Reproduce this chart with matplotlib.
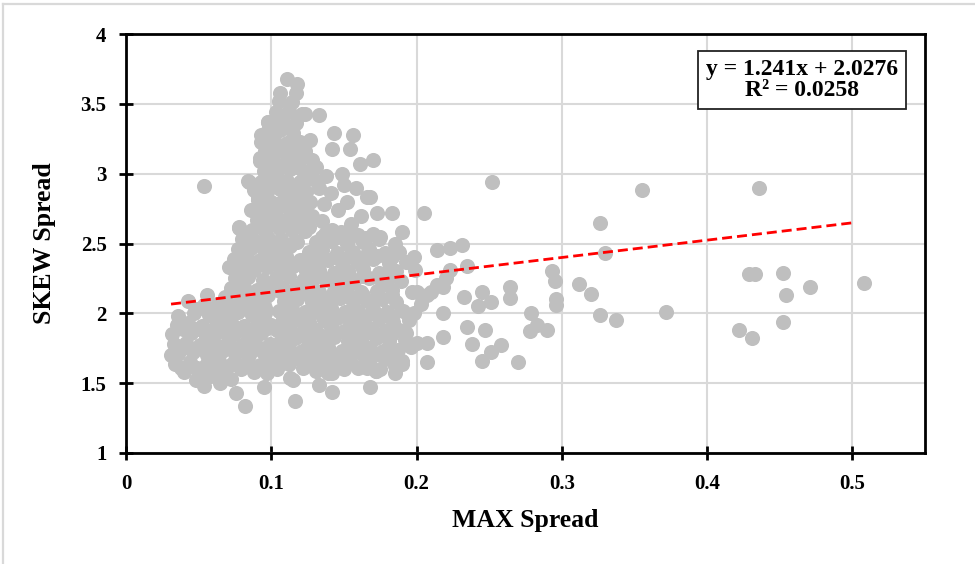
import matplotlib
matplotlib.use("Agg")
import matplotlib.pyplot as plt
from matplotlib.lines import Line2D

# (MAX spread, SKEW spread) pairs, grouped by where they sit in the cloud
low_block = [
    (0.040, 1.58), (0.050, 1.57), (0.060, 1.59), (0.069, 1.56), (0.079, 1.60), (0.088, 1.58), (0.097, 1.57),
    (0.034, 1.64), (0.044, 1.65), (0.055, 1.63), (0.064, 1.66), (0.073, 1.64), (0.083, 1.65), (0.092, 1.63), (0.101, 1.66),
    (0.036, 1.71), (0.046, 1.72), (0.056, 1.70), (0.066, 1.73), (0.075, 1.71), (0.085, 1.70), (0.094, 1.72),
    (0.033, 1.78), (0.041, 1.79), (0.051, 1.77), (0.061, 1.78), (0.070, 1.80), (0.080, 1.77), (0.089, 1.79), (0.099, 1.78),
    (0.032, 1.85), (0.045, 1.86), (0.055, 1.84), (0.065, 1.87), (0.074, 1.85), (0.084, 1.84), (0.093, 1.86),
    (0.035, 1.92), (0.043, 1.93), (0.052, 1.91), (0.062, 1.92), (0.072, 1.94), (0.081, 1.91), (0.091, 1.93), (0.100, 1.92),
    (0.036, 1.98), (0.047, 2.00), (0.057, 1.99), (0.067, 1.98), (0.077, 2.01), (0.087, 1.99), (0.096, 2.00),
    (0.043, 2.09), (0.054, 2.06), (0.063, 2.07), (0.073, 2.05), (0.082, 2.08), (0.092, 2.06),
    (0.056, 2.13), (0.068, 2.12), (0.078, 2.14), (0.088, 2.12), (0.098, 2.13),
    (0.031, 1.70), (0.038, 1.61), (0.048, 1.52), (0.054, 1.48), (0.065, 1.50), (0.076, 1.43),
    (0.082, 1.34), (0.095, 1.47), (0.072, 1.53), (0.058, 1.55), (0.054, 2.91),
    (0.039, 1.61), (0.049, 1.61), (0.059, 1.62), (0.068, 1.61), (0.078, 1.62), (0.087, 1.61), (0.096, 1.62),
    (0.039, 1.75), (0.049, 1.75), (0.059, 1.74), (0.068, 1.76), (0.078, 1.75), (0.087, 1.74), (0.096, 1.75),
    (0.039, 1.89), (0.049, 1.89), (0.059, 1.88), (0.068, 1.90), (0.078, 1.89), (0.087, 1.88), (0.096, 1.89),
    (0.049, 2.03), (0.059, 2.03), (0.068, 2.02), (0.078, 2.04), (0.087, 2.03), (0.096, 2.04),
]

tower = [
    (0.072, 2.18), (0.081, 2.19), (0.090, 2.17), (0.099, 2.20), (0.108, 2.18), (0.117, 2.19),
    (0.075, 2.25), (0.084, 2.26), (0.094, 2.24), (0.103, 2.25), (0.112, 2.27), (0.122, 2.24),
    (0.071, 2.33), (0.079, 2.32), (0.088, 2.31), (0.097, 2.33), (0.106, 2.32), (0.115, 2.34),
    (0.074, 2.39), (0.083, 2.40), (0.092, 2.38), (0.101, 2.39), (0.110, 2.41), (0.120, 2.38),
    (0.077, 2.46), (0.086, 2.47), (0.095, 2.45), (0.104, 2.46), (0.113, 2.48),
    (0.080, 2.53), (0.089, 2.52), (0.098, 2.54), (0.107, 2.53), (0.116, 2.52),
    (0.078, 2.61), (0.087, 2.60), (0.096, 2.59), (0.105, 2.61), (0.114, 2.60), (0.123, 2.59),
    (0.090, 2.67), (0.099, 2.68), (0.108, 2.66), (0.117, 2.67),
    (0.086, 2.74), (0.095, 2.73), (0.104, 2.75), (0.113, 2.74), (0.122, 2.73),
    (0.091, 2.81), (0.100, 2.80), (0.109, 2.82), (0.118, 2.81), (0.127, 2.80),
    (0.088, 2.88), (0.097, 2.87), (0.106, 2.89), (0.115, 2.88), (0.124, 2.87),
    (0.084, 2.95), (0.093, 2.94), (0.102, 2.96), (0.111, 2.95), (0.120, 2.94), (0.129, 2.96),
    (0.095, 3.02), (0.104, 3.01), (0.113, 3.03), (0.122, 3.02),
    (0.092, 3.09), (0.101, 3.10), (0.110, 3.08), (0.119, 3.09), (0.128, 3.10),
    (0.096, 3.16), (0.105, 3.17), (0.114, 3.15), (0.123, 3.16),
    (0.093, 3.23), (0.102, 3.24), (0.111, 3.22), (0.120, 3.23),
    (0.097, 3.30), (0.106, 3.31), (0.115, 3.29),
    (0.098, 3.37), (0.108, 3.38), (0.117, 3.36),
    (0.103, 3.44), (0.112, 3.45), (0.121, 3.43),
    (0.105, 3.52), (0.114, 3.51),
    (0.106, 3.58), (0.117, 3.58),
    (0.118, 3.64), (0.111, 3.68),
    (0.076, 2.36), (0.085, 2.36), (0.094, 2.35), (0.103, 2.36), (0.112, 2.37), (0.121, 2.35),
    (0.082, 2.50), (0.091, 2.50), (0.100, 2.49), (0.109, 2.50), (0.118, 2.51),
    (0.094, 2.64), (0.103, 2.64), (0.112, 2.63), (0.121, 2.64),
    (0.094, 2.78), (0.103, 2.78), (0.112, 2.77), (0.121, 2.78),
    (0.094, 2.92), (0.103, 2.92), (0.112, 2.91), (0.121, 2.92),
    (0.099, 3.06), (0.108, 3.06), (0.117, 3.05),
    (0.098, 3.20), (0.107, 3.20), (0.116, 3.19),
    (0.102, 3.34), (0.111, 3.34),
]

tower_fringe = [
    (0.123, 3.43), (0.133, 3.42), (0.143, 3.29), (0.156, 3.28), (0.127, 3.24), (0.142, 3.18),
    (0.154, 3.18), (0.170, 3.10), (0.161, 3.07), (0.149, 3.00), (0.168, 2.83), (0.173, 2.72),
    (0.183, 2.72), (0.166, 2.83), (0.098, 3.37), (0.093, 3.28), (0.092, 3.11), (0.085, 2.94),
    (0.091, 2.83), (0.078, 2.62), (0.104, 2.68),
    (0.128, 2.70), (0.136, 2.78), (0.133, 2.90), (0.141, 2.86), (0.138, 2.98), (0.131, 3.05),
    (0.146, 2.74), (0.152, 2.80), (0.158, 2.90), (0.150, 2.92), (0.126, 2.62), (0.135, 2.66),
    (0.142, 2.60), (0.155, 2.64), (0.162, 2.70),
]

band = [
    (0.104, 1.60), (0.122, 1.61), (0.131, 1.59), (0.140, 1.62), (0.150, 1.60), (0.160, 1.61), (0.172, 1.59), (0.185, 1.62),
    (0.108, 1.67), (0.117, 1.68), (0.126, 1.66), (0.135, 1.67), (0.145, 1.69), (0.154, 1.66), (0.165, 1.68), (0.178, 1.67), (0.190, 1.66),
    (0.103, 1.74), (0.112, 1.75), (0.121, 1.73), (0.130, 1.74), (0.139, 1.76), (0.149, 1.73), (0.158, 1.74), (0.168, 1.75),
    (0.177, 1.73), (0.187, 1.74), (0.196, 1.76),
    (0.107, 1.81), (0.116, 1.82), (0.125, 1.80), (0.134, 1.81), (0.143, 1.83), (0.153, 1.80), (0.162, 1.81), (0.172, 1.82),
    (0.181, 1.80), (0.192, 1.81),
    (0.104, 1.88), (0.113, 1.89), (0.122, 1.87), (0.131, 1.88), (0.141, 1.90), (0.150, 1.87), (0.159, 1.88), (0.169, 1.89),
    (0.178, 1.87), (0.188, 1.88),
    (0.108, 1.95), (0.117, 1.96), (0.126, 1.94), (0.136, 1.95), (0.145, 1.97), (0.154, 1.94), (0.164, 1.95), (0.174, 1.96),
    (0.184, 1.94), (0.195, 1.95),
    (0.105, 2.02), (0.114, 2.03), (0.123, 2.01), (0.132, 2.02), (0.141, 2.04), (0.151, 2.01), (0.160, 2.02), (0.170, 2.03),
    (0.180, 2.01), (0.191, 2.02),
    (0.109, 2.09), (0.118, 2.10), (0.128, 2.08), (0.137, 2.09), (0.147, 2.11), (0.156, 2.08), (0.166, 2.09), (0.176, 2.10),
    (0.186, 2.08),
    (0.106, 2.16), (0.124, 2.17), (0.133, 2.15), (0.143, 2.16), (0.152, 2.18), (0.162, 2.15), (0.173, 2.16), (0.183, 2.17),
    (0.197, 2.15),
    (0.128, 2.23), (0.138, 2.24), (0.147, 2.22), (0.157, 2.23), (0.167, 2.25), (0.178, 2.22), (0.189, 2.23),
    (0.124, 2.30), (0.133, 2.31), (0.143, 2.29), (0.153, 2.30), (0.163, 2.32), (0.174, 2.29), (0.186, 2.30), (0.199, 2.31),
    (0.129, 2.37), (0.139, 2.38), (0.149, 2.36), (0.159, 2.37), (0.170, 2.39), (0.181, 2.36), (0.193, 2.37),
    (0.126, 2.44), (0.135, 2.45), (0.145, 2.43), (0.156, 2.44), (0.167, 2.46), (0.178, 2.43), (0.188, 2.44),
    (0.131, 2.51), (0.141, 2.52), (0.152, 2.50), (0.163, 2.51), (0.174, 2.53), (0.185, 2.50),
    (0.137, 2.57), (0.148, 2.58), (0.160, 2.56), (0.170, 2.57),
    (0.115, 1.52), (0.133, 1.49), (0.142, 1.44), (0.142, 1.57), (0.168, 1.47), (0.172, 1.59),
    (0.185, 1.57), (0.116, 1.37), (0.113, 1.54), (0.139, 1.57), (0.190, 1.64), (0.175, 1.60), (0.166, 1.61),
    (0.112, 1.64), (0.130, 1.63), (0.149, 1.64), (0.168, 1.63),
    (0.108, 1.70), (0.117, 1.71), (0.126, 1.70), (0.135, 1.71), (0.144, 1.70), (0.154, 1.71), (0.163, 1.70), (0.173, 1.71), (0.183, 1.70),
    (0.108, 1.85), (0.117, 1.84), (0.126, 1.85), (0.135, 1.84), (0.144, 1.85), (0.154, 1.84), (0.163, 1.85), (0.173, 1.84), (0.183, 1.85),
    (0.108, 1.98), (0.117, 1.99), (0.126, 1.98), (0.135, 1.99), (0.144, 1.98), (0.154, 1.99), (0.163, 1.98), (0.173, 1.99), (0.183, 1.98),
    (0.113, 2.13), (0.126, 2.13), (0.135, 2.12), (0.144, 2.13), (0.154, 2.12), (0.163, 2.13), (0.173, 2.12), (0.183, 2.13),
    (0.126, 2.27), (0.135, 2.26), (0.144, 2.27), (0.154, 2.26), (0.163, 2.27), (0.173, 2.26), (0.183, 2.27),
    (0.135, 2.41), (0.144, 2.40), (0.154, 2.41), (0.163, 2.40), (0.173, 2.41), (0.183, 2.40),
    (0.135, 2.55), (0.144, 2.54), (0.154, 2.55), (0.165, 2.54), (0.175, 2.55),
]

right_tail = [
    (0.355, 2.88), (0.326, 2.65), (0.330, 2.43), (0.312, 2.21), (0.320, 2.14), (0.326, 1.99),
    (0.337, 1.95), (0.372, 2.01), (0.436, 2.90), (0.429, 2.28), (0.433, 2.28), (0.452, 2.29),
    (0.454, 2.13), (0.471, 2.19), (0.452, 1.94), (0.422, 1.88), (0.431, 1.82), (0.508, 2.22),
    (0.252, 2.94), (0.205, 2.72), (0.293, 2.30), (0.295, 2.23), (0.296, 2.10), (0.296, 2.06),
    (0.279, 2.00), (0.264, 2.19), (0.264, 2.11), (0.278, 1.87), (0.283, 1.92), (0.290, 1.88),
    (0.245, 2.15), (0.251, 2.08), (0.242, 2.05), (0.233, 2.12), (0.235, 1.90), (0.247, 1.88),
    (0.238, 1.78), (0.258, 1.77), (0.251, 1.72), (0.245, 1.66), (0.270, 1.65),
    (0.231, 2.49), (0.223, 2.47), (0.214, 2.45), (0.235, 2.34), (0.218, 2.19), (0.218, 1.83),
    (0.207, 1.65), (0.207, 1.79), (0.207, 2.13), (0.218, 2.00), (0.190, 2.58),
    (0.200, 2.15), (0.203, 2.07), (0.198, 2.00), (0.200, 1.79), (0.193, 1.86), (0.214, 2.20),
    (0.210, 2.15), (0.220, 2.25), (0.223, 2.31), (0.198, 2.40), (0.181, 2.31),
]

# trendline as reported in the label
slope, intercept, r_squared = 1.241, 2.0276, 0.0258
trend_end = 0.502

points = low_block + tower + tower_fringe + band + right_tail
max_spread = [p[0] for p in points]
skew_spread = [p[1] for p in points]

serif = ["Liberation Serif", "DejaVu Serif"]
fig = plt.figure(figsize=(9.75, 5.64), dpi=100)
ax = fig.add_axes([126 / 975, 1 - 453 / 564, 799 / 975, 419 / 564])

ax.scatter(max_spread, skew_spread, s=118, color="#bfbfbf", linewidths=0, zorder=2)

x0 = min(max_spread)
ax.plot([x0, trend_end], [slope * x0 + intercept, slope * trend_end + intercept],
        color="#ff0000", lw=2.0, linestyle=(0, (3.6, 1.8)), zorder=3)

ax.set_xlim(0, 0.55)
ax.set_ylim(1, 4)
ax.set_xticks([0, 0.1, 0.2, 0.3, 0.4, 0.5])
ax.set_xticklabels(["0", "0.1", "0.2", "0.3", "0.4", "0.5"])
ax.set_yticks([1, 1.5, 2, 2.5, 3, 3.5, 4])
ax.set_yticklabels(["1", "1.5", "2", "2.5", "3", "3.5", "4"])
ax.grid(True, color="#d9d9d9", lw=1.5, zorder=0)
ax.set_axisbelow(True)
for sp in ax.spines.values():
    sp.set_color("black")
    sp.set_linewidth(2.0)
ax.tick_params(direction="inout", length=10, width=2.0, colors="black")
ax.tick_params(axis="x", pad=10)
ax.tick_params(axis="y", pad=9)
for lab in ax.get_xticklabels() + ax.get_yticklabels():
    lab.set_fontfamily(serif)
    lab.set_fontweight("bold")
    lab.set_fontsize(15)

ax.set_xlabel("MAX Spread", fontsize=18.5, fontweight="bold", family=serif, labelpad=11)
ax.set_ylabel("SKEW Spread", fontsize=18.5, fontweight="bold", family=serif, labelpad=18)

ax.text(0.846, 0.890, f"y = {slope}x + {intercept}\nR² = {r_squared}",
        transform=ax.transAxes, ha="center", va="center", fontsize=17, fontweight="bold",
        family=serif, linespacing=1.05, zorder=5,
        bbox=dict(boxstyle="square,pad=0.33", facecolor="white", edgecolor="#222222", lw=1.3))

# light outer border on the left and top edges
fig.add_artist(Line2D([3 / 975, 3 / 975], [0, 1 - 4 / 564], transform=fig.transFigure,
                      color="#d9d9d9", lw=1.6))
fig.add_artist(Line2D([3 / 975, 1], [1 - 4 / 564, 1 - 4 / 564], transform=fig.transFigure,
                      color="#d9d9d9", lw=1.6))

fig.savefig("out.png", dpi=100)
